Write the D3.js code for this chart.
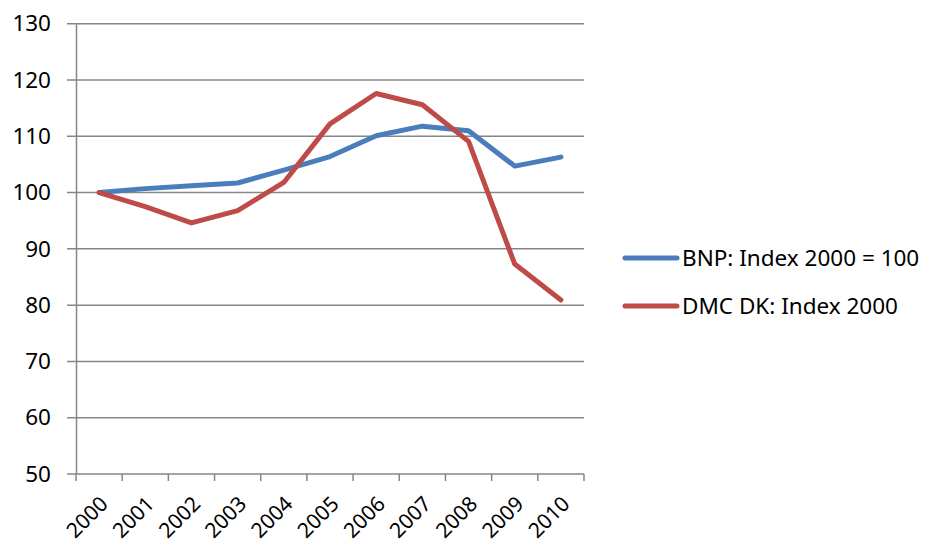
<!DOCTYPE html>
<html>
<head>
<meta charset="utf-8">
<script src="https://cdn.jsdelivr.net/npm/d3@7"></script>
<style>
  body { margin: 0; background: #fff; }
  svg text { font-family: "Noto Sans", "Open Sans", sans-serif; fill: #000; }
</style>
</head>
<body>
<div id="chart"></div>
<script>
// years on the x axis
const years = ['2000', '2001', '2002', '2003', '2004', '2005', '2006', '2007', '2008', '2009', '2010']
// BNP: Index 2000 = 100
const bnp = [100, 100.7, 101.2, 101.7, 104.0, 106.4, 110.1, 111.8, 111.0, 104.7, 106.3]
// DMC DK: Index 2000
const dmc = [100, 97.5, 94.6, 96.8, 101.8, 112.2, 117.6, 115.6, 109.1, 87.3, 80.9]
const yTicks = [50, 60, 70, 80, 90, 100, 110, 120, 130]
const seriesNames = ['BNP: Index 2000 = 100', 'DMC DK: Index 2000']

const width = 928
const height = 546
const margin = {top: 23.7, right: 344, bottom: 72, left: 76}
const fontSize = '22.5px'

const svg = d3.select('#chart')
    .append('svg')
    .attr('width', width)
    .attr('height', height)

const x = d3.scaleBand()
    .domain(years)
    .range([margin.left, width - margin.right])

const y = d3.scaleLinear()
    .domain([50, 130])
    .range([height - margin.bottom, margin.top])

// gridlines
svg.append('g')
    .selectAll('line')
    .data(yTicks)
    .enter().append('line')
    .attr('x1', margin.left - 9)
    .attr('x2', width - margin.right)
    .attr('y1', d => y(d))
    .attr('y2', d => y(d))
    .attr('stroke', '#868686')
    .attr('stroke-width', 1.5)

// y axis
const yAxis = svg.append('g')
    .attr('transform', 'translate(' + margin.left + ',0)')
    .call(d3.axisLeft(y).tickValues(yTicks).tickSize(0).tickPadding(25))
yAxis.select('.domain').attr('stroke', '#868686').attr('stroke-width', 1.5)
yAxis.selectAll('text').style('font-size', fontSize)

// x axis
const xAxis = svg.append('g')
    .attr('transform', 'translate(0,' + y(50) + ')')
    .call(d3.axisBottom(x).tickSize(0))
xAxis.select('.domain').remove()
xAxis.selectAll('line.band-tick')
    .data(d3.range(years.length + 1))
    .enter().append('line')
    .attr('x1', i => margin.left + i * x.step())
    .attr('x2', i => margin.left + i * x.step())
    .attr('y1', 0)
    .attr('y2', 7)
    .attr('stroke', '#868686')
    .attr('stroke-width', 1.5)
xAxis.selectAll('text')
    .style('font-size', '21px')
    .attr('text-anchor', 'end')
    .attr('y', 0)
    .attr('dy', '0.35em')
    .attr('transform', 'translate(5,26) rotate(-45)')

// lines
const line = d3.line()
    .x((d, i) => x(years[i]) + x.bandwidth() / 2)
    .y(d => y(d))

const colors = ['#4A7EBB', '#BE4B48']
const series = [bnp, dmc]

series.forEach((s, i) => {
    svg.append('path')
        .datum(s)
        .attr('d', line)
        .attr('fill', 'none')
        .attr('stroke', colors[i])
        .attr('stroke-width', 5)
        .attr('stroke-linejoin', 'round')
        .attr('stroke-linecap', 'round')
})

// legend
const legend = svg.append('g')
    .attr('transform', 'translate(625,258)')

seriesNames.forEach((name, i) => {
    const g = legend.append('g').attr('transform', 'translate(0,' + i * 48 + ')')
    g.append('line')
        .attr('x1', 0)
        .attr('x2', 52)
        .attr('stroke', colors[i])
        .attr('stroke-width', 5)
        .attr('stroke-linecap', 'round')
    g.append('text')
        .attr('x', 57)
        .attr('dy', '0.35em')
        .style('font-size', fontSize)
        .text(name)
})
</script>
</body>
</html>
